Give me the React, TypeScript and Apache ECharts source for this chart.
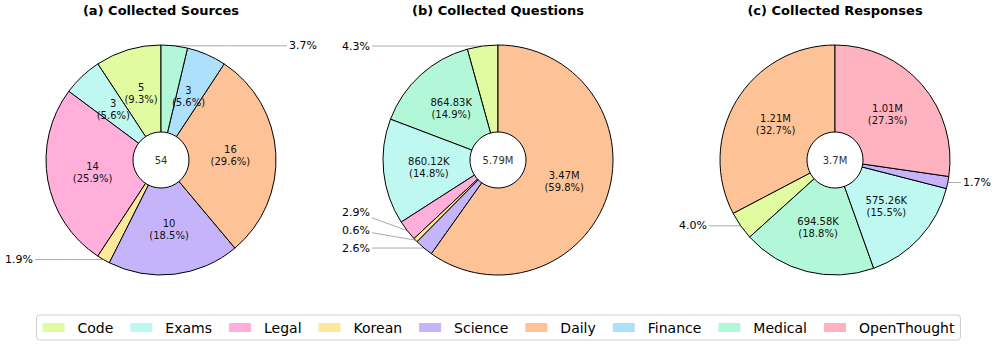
import React, { useEffect, useRef } from "react";
import * as echarts from "echarts";

// ---------- data ----------
const legendNames = ["Code", "Exams", "Legal", "Korean", "Science", "Daily", "Finance", "Medical", "OpenThought"];
const legendColors = ["#e1fca0", "#bff8f0", "#ffafda", "#fee99a", "#c6b4fb", "#fdc397", "#ade0fb", "#b2f7d7", "#ffb2bf"];

const titles = ["(a) Collected Sources", "(b) Collected Questions", "(c) Collected Responses"];

const sourcesNames = ["Code", "Exams", "Legal", "Korean", "Science", "Daily", "Finance", "Medical"];
const sourcesValues = [5, 3, 14, 1, 10, 16, 3, 2];

const questionsNames = ["Code", "Medical", "Exams", "Legal", "Korean", "Science", "Daily"];
const questionsValues = [249000, 864830, 860120, 168000, 35000, 150000, 3466000];

const responsesNames = ["Daily", "Code", "Medical", "Exams", "Science", "OpenThought"];
const responsesValues = [1210000, 148000, 694580, 575260, 63000, 1010000];

// ---------- layout ----------
const CENTERS_X = [161, 498, 835];
const CY = 160;
const R = 115;
const R0 = 18;
const RC = 28;
const SMALL = 5;
const FONT = "DejaVu Sans";

const colorOf = (n: string) => legendColors[legendNames.indexOf(n)];

const fmt = (v: number) =>
  v >= 1e6 ? (v / 1e6).toFixed(2) + "M" : v >= 1e3 ? (v / 1e3).toFixed(2) + "K" : String(v);
const fmtTotal = (v: number) =>
  v >= 1e6 ? parseFloat((v / 1e6).toFixed(2)) + "M" : v >= 1e3 ? parseFloat((v / 1e3).toFixed(2)) + "K" : String(v);

function computeOutside(pcts: number[], cx: number) {
  const res: any[] = [];
  let cum = 0;
  pcts.forEach((p, i) => {
    const mid = ((cum + p / 2) / 100) * Math.PI * 2;
    cum += p;
    if (p >= SMALL) return;
    const px = cx - R * Math.sin(mid);
    const py = CY - R * Math.cos(mid);
    const side = px < cx ? -1 : 1;
    res[i] = { px, py, side, ly: py, lx: cx + side * (R + 13) };
  });
  [-1, 1].forEach((s) => {
    const items = res.filter((o) => o && o.side === s).sort((a, b) => b.ly - a.ly);
    for (let k = 1; k < items.length; k++) {
      if (items[k].ly > items[k - 1].ly - 18) items[k].ly = items[k - 1].ly - 18;
    }
  });
  return res;
}

function buildPie(names: string[], values: number[], idx: number) {
  const cx = CENTERS_X[idx];
  const total = values.reduce((a, b) => a + b, 0);
  const pcts = values.map((v) => (v / total) * 100);
  const outside = computeOutside(pcts, cx);
  return [
    {
      type: "pie",
      name: titles[idx],
      center: [cx, CY],
      radius: [R0, R],
      startAngle: 90,
      clockwise: false,
      avoidLabelOverlap: false,
      emphasis: { disabled: true },
      itemStyle: { borderColor: "#000", borderWidth: 1 },
      label: {
        position: "inside",
        fontSize: 10,
        lineHeight: 12,
        color: "#111",
        fontFamily: FONT,
        formatter: (p: any) => {
          const pc = pcts[p.dataIndex];
          return pc < SMALL ? pc.toFixed(1) + "%" : `${fmt(p.value)}\n(${pc.toFixed(1)}%)`;
        },
      },
      labelLine: { show: false },
      data: names.map((n, i) => {
        const d: any = { name: n, value: values[i], itemStyle: { color: colorOf(n) } };
        if (pcts[i] < SMALL) {
          d.label = { position: "outside", fontSize: 11, color: "#000" };
          d.labelLine = { show: true, length: 5, length2: 5, lineStyle: { color: "#aaa", width: 1 } };
        }
        return d;
      }),
      labelLayout: (params: any) => {
        const o = outside[params.dataIndex];
        if (!o) return {};
        const w = params.labelRect.width;
        const h = params.labelRect.height;
        const cxT = o.lx + (o.side * w) / 2;
        const cyT = o.ly;
        const dx = o.px - cxT;
        const dy = o.py - cyT;
        const t = Math.min((w / 2 + 2) / Math.max(Math.abs(dx), 1e-6), (h / 2 + 1) / Math.max(Math.abs(dy), 1e-6), 1);
        const sx = cxT + t * dx;
        const sy = cyT + t * dy;
        return {
          x: o.lx,
          y: o.ly,
          align: o.side < 0 ? "right" : "left",
          verticalAlign: "middle",
          labelLinePoints: [
            [sx, sy],
            [(sx + o.px) / 2, (sy + o.py) / 2],
            [o.px, o.py],
          ],
        };
      },
    },
    {
      type: "pie",
      center: [cx, CY],
      radius: [0, RC],
      silent: true,
      emphasis: { disabled: true },
      itemStyle: { color: "#fff", borderColor: "#000", borderWidth: 1 },
      label: { position: "center", formatter: fmtTotal(total), fontSize: 10, color: "#333", fontFamily: FONT },
      labelLine: { show: false },
      data: [{ name: "total-" + idx, value: total }],
    },
  ];
}

export default function App() {
  const ref = useRef<HTMLDivElement>(null);
  useEffect(() => {
    if (!ref.current) return;
    const chart = echarts.init(ref.current, undefined, { renderer: "svg" });
    chart.setOption({
      animation: false,
      backgroundColor: "#fff",
      textStyle: { fontFamily: FONT },
      title: titles.map((t, i) => ({
        text: t,
        left: CENTERS_X[i],
        top: 4,
        textAlign: "center",
        padding: 0,
        textStyle: { fontSize: 13, fontWeight: "bold", color: "#000", fontFamily: FONT },
      })),
      legend: {
        data: legendNames,
        left: "center",
        top: 315,
        orient: "horizontal",
        icon: "rect",
        itemWidth: 22,
        itemHeight: 9,
        itemGap: 17,
        padding: [4, 6, 4, 6],
        borderColor: "#d0d0d0",
        borderWidth: 1,
        borderRadius: 3,
        itemStyle: { borderWidth: 0 },
        textStyle: { fontSize: 14, color: "#000", fontFamily: FONT, padding: [0, 0, 0, 8], lineHeight: 17 },
      },
      series: [
        ...buildPie(sourcesNames, sourcesValues, 0),
        ...buildPie(questionsNames, questionsValues, 1),
        ...buildPie(responsesNames, responsesValues, 2),
      ],
    });
    return () => chart.dispose();
  }, []);
  return <div ref={ref} style={{ position: "fixed", left: 0, top: 0, width: 997, height: 346 }} />;
}
